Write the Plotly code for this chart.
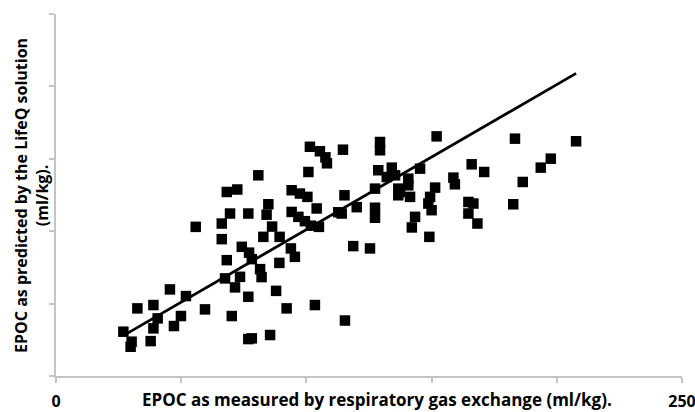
import plotly.graph_objects as go

measured = [26.9, 30.2, 29.8, 37.8, 32.5, 38.9, 40.6, 38.9, 45.5, 51.9, 49.9, 47.1, 59.5, 70.2,
            55.8, 66.2, 66.2, 68.2, 72.4, 69.5, 76.8, 68.2, 74.2, 67.5, 73.5, 71.5, 76.8, 76.8,
            101.4, 105.4, 107.6, 108.2, 114.6, 100.8, 80.8, 94.1, 97.4, 100.4, 115.2, 84.8, 84.1,
            94.1, 96.8, 99.4, 104.1, 105.0, 101.8, 112.7, 86.3, 82.8, 89.3, 77.1, 78.2, 93.8,
            95.4, 89.2, 81.5, 82.1, 87.9, 92.1, 103.4, 78.2, 85.5, 115.4, 129.4, 129.4, 128.7,
            132.1, 127.4, 120.1, 127.4, 127.4, 118.7, 125.4, 152.0, 183.3, 207.7, 197.6, 193.6,
            186.4, 166.0, 171.0, 145.4, 134.1, 135.4, 140.7, 140.7, 158.7, 159.3, 151.4, 149.4,
            148.7, 150.0, 136.7, 136.7, 141.4, 137.4, 114.1, 164.7, 166.7, 164.7, 168.3, 182.6,
            143.4, 142.1, 149.1]
predicted = [30.6, 23.7, 20.2, 24.1, 46.7, 49.0, 39.8, 32.9, 59.8, 55.2, 41.4, 34.5, 46.0, 41.4,
             103.0, 105.3, 94.5, 127.1, 128.8, 112.2, 112.2, 80.0, 89.2, 67.4, 68.5, 61.2, 54.7, 25.5,
             158.3, 155.2, 151.0, 146.9, 156.3, 140.9, 138.6, 128.3, 126.0, 123.7, 124.8, 118.6, 111.4,
             113.3, 109.9, 106.9, 115.7, 103.0, 103.8, 113.1, 103.2, 96.1, 96.1, 85.2, 80.7, 88.1,
             82.3, 78.1, 73.8, 68.3, 58.8, 46.7, 49.0, 26.0, 28.3, 38.3, 161.6, 155.9, 142.1,
             137.4, 129.4, 116.6, 116.2, 109.3, 89.7, 88.1, 165.5, 163.9, 162.1, 150.1, 143.9,
             134.0, 146.2, 140.9, 143.2, 143.9, 138.6, 136.3, 131.7, 137.0, 132.4, 130.1, 123.7,
             119.1, 114.5, 129.4, 124.8, 123.7, 127.1, 112.2, 120.2, 119.1, 112.2, 105.3, 118.6,
             109.9, 102.6, 96.1]

trend_x = [26.9, 207.7]
trend_y = [27.9, 209.0]

tick_vals = [0, 50, 100, 150, 200, 250]
x_tick_text = ["0", "", "", "", "", "250"]

fig = go.Figure()
fig.add_trace(go.Scatter(x=measured, y=predicted, mode="markers",
                         marker=dict(symbol="square", size=10.5, color="black"),
                         showlegend=False, hoverinfo="skip"))
fig.add_trace(go.Scatter(x=trend_x, y=trend_y, mode="lines",
                         line=dict(color="black", width=2.8), showlegend=False, hoverinfo="skip"))

font_family = "'Open Sans', Lato, sans-serif"
axis_color = "#c4c4c4"

fig.update_layout(
    width=695, height=412,
    margin=dict(l=56, r=13, t=14, b=36, autoexpand=False),
    paper_bgcolor="white", plot_bgcolor="white",
    font=dict(family=font_family, color="black"),
    xaxis=dict(range=[0, 250], tickvals=tick_vals, ticktext=x_tick_text, automargin=False,
               showgrid=False, zeroline=False, showline=True, linecolor=axis_color, linewidth=1.5,
               ticks="outside", ticklen=5, tickcolor=axis_color, tickwidth=1.5,
               ticklabeloverflow="allow",
               tickfont=dict(size=16, family=font_family, weight="bold"), ticklabelstandoff=5),
    yaxis=dict(range=[0, 250], tickvals=tick_vals, showticklabels=False, automargin=False,
               showgrid=False, zeroline=False, showline=True, linecolor=axis_color, linewidth=1.5,
               ticks="outside", ticklen=5, tickcolor=axis_color, tickwidth=1.5),
    annotations=[
        dict(text="EPOC as measured by respiratory gas exchange (ml/kg).",
             xref="paper", yref="paper", x=0.512, y=-0.066, xanchor="center", yanchor="middle",
             showarrow=False, font=dict(size=17, family=font_family, weight="bold")),
        dict(text="EPOC as predicted by the LifeQ solution<br>(ml/kg).",
             xref="paper", yref="paper", x=-0.039, y=0.499, xanchor="center", yanchor="middle",
             textangle=-90, showarrow=False,
             font=dict(size=16, family=font_family, weight="bold")),
    ],
)

fig.write_html("out.html", config={"displayModeBar": False},
               post_script="document.body.style.margin='0';")
